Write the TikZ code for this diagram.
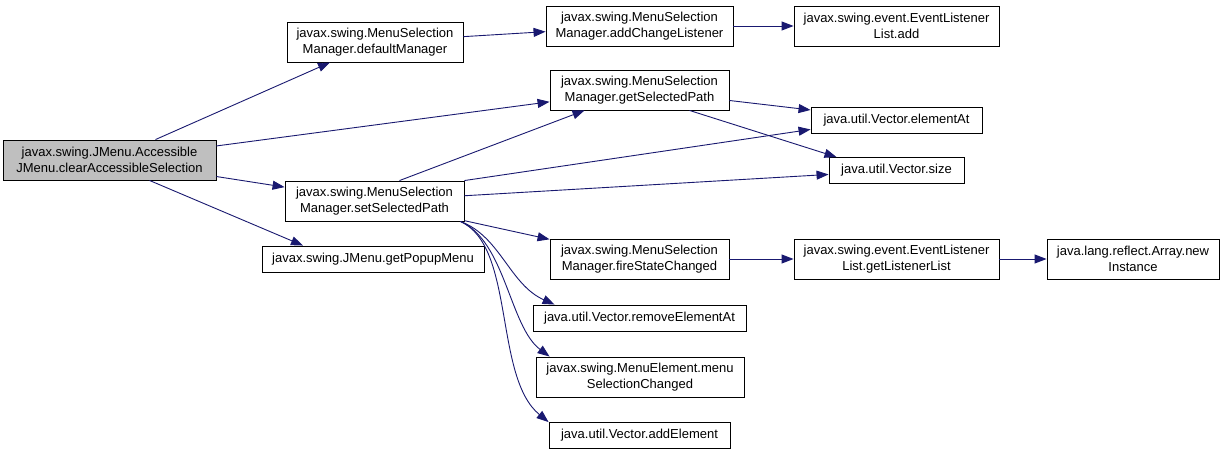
\documentclass[tikz,border=0pt]{standalone}
\usepackage{fontspec}
\setmainfont{Liberation Sans}
\usetikzlibrary{arrows.meta}
\definecolor{CallLine}{HTML}{191970}
\definecolor{RootFill}{HTML}{BFBFBF}

\begin{document}
\begin{tikzpicture}[x=1pt, y=-1pt,
  fn/.style={draw=black, line width=0.9pt, fill=white, inner sep=2pt, align=center, minimum height=40pt, font=\fontsize{13}{16}\selectfont},
  oneline/.style={fn, minimum height=26pt},
  call/.style={draw=CallLine, line width=0.9pt, -{Triangle[length=12pt, width=9pt]}}]
  \useasboundingbox[fill=white] (0,0) rectangle (1225,454);

  % caller
  \node[fn, fill=RootFill, minimum width=213pt] (root) at (109.5,160) {javax.swing.JMenu.Accessible\\JMenu.clearAccessibleSelection};

  % first level
  \node[fn, minimum width=176pt] (defMgr) at (375,42) {javax.swing.MenuSelection\\Manager.defaultManager};
  \node[fn, minimum width=179pt] (setPath) at (374.5,201) {javax.swing.MenuSelection\\Manager.setSelectedPath};
  \node[oneline, minimum width=222pt] (popup) at (373,259) {javax.swing.JMenu.getPopupMenu};

  % second level
  \node[fn, minimum width=187pt] (addListener) at (639.5,26) {javax.swing.MenuSelection\\Manager.addChangeListener};
  \node[fn, minimum width=179pt] (getPath) at (639.5,90) {javax.swing.MenuSelection\\Manager.getSelectedPath};
  \node[fn, minimum width=179pt] (fireState) at (639.5,259) {javax.swing.MenuSelection\\Manager.fireStateChanged};
  \node[oneline, minimum width=213pt] (removeAt) at (639.5,318) {java.util.Vector.removeElementAt};
  \node[fn, minimum width=208pt] (menuSel) at (640,377) {javax.swing.MenuElement.menu\\SelectionChanged};
  \node[oneline, minimum width=181pt] (addElem) at (639.5,435.5) {java.util.Vector.addElement};

  % third level
  \node[fn, minimum width=205pt] (listAdd) at (896.5,26) {javax.swing.event.EventListener\\List.add};
  \node[oneline, minimum width=171pt] (elemAt) at (896.5,120) {java.util.Vector.elementAt};
  \node[oneline, minimum width=135pt] (vecSize) at (896.5,170.5) {java.util.Vector.size};
  \node[fn, minimum width=205pt] (listGet) at (896.5,259) {javax.swing.event.EventListener\\List.getListenerList};
  \node[fn, minimum width=172pt] (newInst) at (1133,259) {java.lang.reflect.Array.new\\Instance};

  % calls
  \draw[call] ([xshift=46pt]root.north) -- ([xshift=-45pt]defMgr.south);
  \draw[call] (root) -- (getPath);
  \draw[call] (root) -- (setPath);
  \draw[call] ([xshift=40pt]root.south) -- ([xshift=-70pt]popup.north);
  \draw[call] (defMgr) -- (addListener);
  \draw[call] (addListener) -- (listAdd);
  \draw[call] (getPath) -- (elemAt);
  \draw[call] ([xshift=50pt]getPath.south) -- ([xshift=-60pt]vecSize.north);
  \draw[call] ([xshift=25pt]setPath.north) -- ([xshift=-55pt]getPath.south);
  \draw[call] (setPath.north east) -- ([yshift=4pt]elemAt.south west);
  \draw[call] (setPath) -- (vecSize);
  \draw[call] (setPath) -- (fireState);
  \draw[call] ([xshift=-4pt]setPath.south east) .. controls +(40,15) and +(-45,-20) .. ([xshift=22pt]removeAt.north west);
  \draw[call] ([xshift=-4pt]setPath.south east) .. controls +(45,20) and +(-40,-30) .. ([xshift=14pt]menuSel.north west);
  \draw[call] ([xshift=-4pt]setPath.south east) .. controls +(55,25) and +(-55,-45) .. (addElem.north west);
  \draw[call] (fireState) -- (listGet);
  \draw[call] (listGet) -- (newInst);
\end{tikzpicture}
\end{document}
